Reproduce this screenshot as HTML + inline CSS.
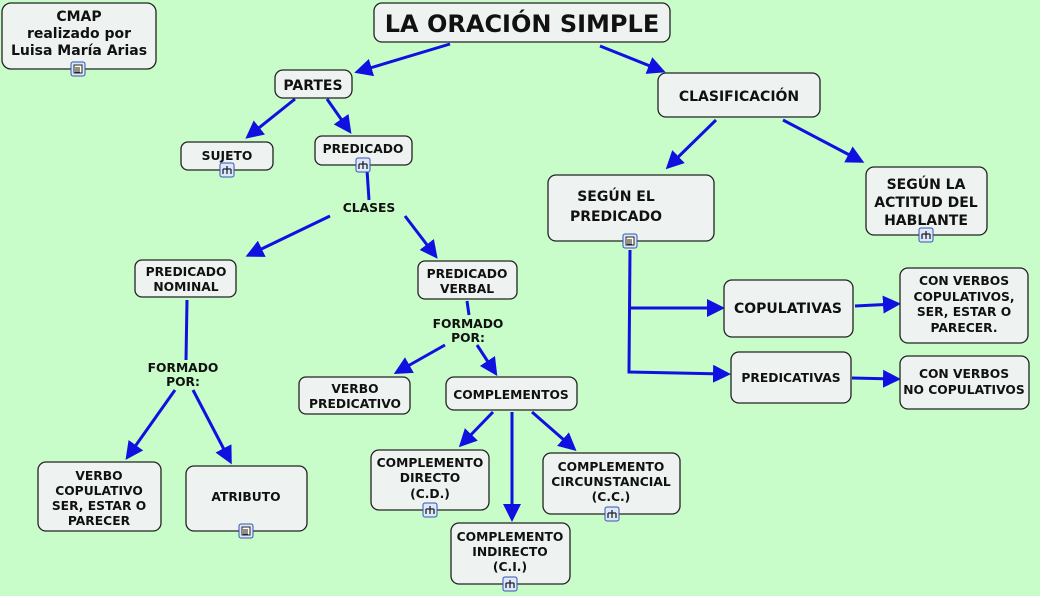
<!DOCTYPE html>
<html><head><meta charset="utf-8">
<style>
html,body{margin:0;padding:0;background:#c8fcc8;}
svg{display:block;}
text{font-family:"DejaVu Sans",Verdana,sans-serif;font-weight:bold;fill:#111;text-anchor:middle;}
.n{fill:#eef3f2;stroke:#222;stroke-width:1.3;}
.e{stroke:#1010e0;stroke-width:3;fill:none;}
.s{font-size:12.3px;}
</style></head><body>
<svg width="1040" height="596" viewBox="0 0 1040 596">
<defs>
<marker id="a" markerWidth="6" markerHeight="6" refX="4" refY="3" orient="auto" markerUnits="strokeWidth"><path d="M0,0 L6,3 L0,6 z" fill="#1010e0"/></marker>
<g id="ic"><rect x="-7" y="-7" width="14" height="14" rx="2" fill="#dde8ff" stroke="#3355aa"/><path d="M0,-4v3M-4,-1h8M-4,-1v5M4,-1v5M0,-1v5" stroke="#222" stroke-width="1.3"/></g>
<g id="ic2"><rect x="-7" y="-7" width="14" height="14" rx="2" fill="#dde8ff" stroke="#3355aa"/><rect x="-4" y="-4" width="8" height="8" fill="#ffe" stroke="#222"/><path d="M-3,-1h5M-3,1h5M-3,3h5" stroke="#222"/></g>
</defs>
<g class="e">
<path d="M450,44 L360,71" marker-end="url(#a)"/>
<path d="M600,46 L660,70" marker-end="url(#a)"/>
<path d="M295,99 L250,135" marker-end="url(#a)"/>
<path d="M327,99 L348,129" marker-end="url(#a)"/>
<path d="M367,170 L369,200"/>
<path d="M330,216 L251,254" marker-end="url(#a)"/>
<path d="M405,216 L434,254" marker-end="url(#a)"/>
<path d="M716,120 L670,165" marker-end="url(#a)"/>
<path d="M783,120 L859,160" marker-end="url(#a)"/>
<path d="M187,300 L186,360"/>
<path d="M175,390 L129,455" marker-end="url(#a)"/>
<path d="M193,390 L229,459" marker-end="url(#a)"/>
<path d="M467,301 L469,315"/>
<path d="M445,345 L399,371" marker-end="url(#a)"/>
<path d="M477,345 L494,371" marker-end="url(#a)"/>
<path d="M630,250 L629,372 L725,374" marker-end="url(#a)"/>
<path d="M629,308 L719,308" marker-end="url(#a)"/>
<path d="M855,306 L895,304" marker-end="url(#a)"/>
<path d="M852,378 L895,379" marker-end="url(#a)"/>
<path d="M493,412 L463,443" marker-end="url(#a)"/>
<path d="M512,412 L512,516" marker-end="url(#a)"/>
<path d="M532,412 L572,447" marker-end="url(#a)"/>
</g>
<rect class="n" x="2" y="3" width="154" height="66" rx="9"/>
<text font-size="14" x="79" y="21">CMAP</text>
<text font-size="14" x="79" y="38">realizado por</text>
<text font-size="14" x="79" y="55">Luisa María Arias</text>
<use href="#ic2" x="78" y="69"/>
<rect class="n" x="374" y="3" width="296" height="39" rx="8"/>
<text font-size="24" x="522" y="32">LA ORACIÓN SIMPLE</text>
<rect class="n" x="275" y="70" width="77" height="28" rx="8"/>
<text font-size="14" x="313" y="90">PARTES</text>
<rect class="n" x="658" y="73" width="162" height="44" rx="8"/>
<text font-size="14" x="739" y="101">CLASIFICACIÓN</text>
<rect class="n" x="181" y="142" width="92" height="28" rx="7"/>
<text class="s" x="227" y="160">SUJETO</text><use href="#ic" x="227" y="170"/>
<rect class="n" x="315" y="136" width="97" height="29" rx="7"/>
<text class="s" x="363" y="153">PREDICADO</text><use href="#ic" x="363" y="165"/>
<text class="s" x="369" y="212">CLASES</text>
<rect class="n" x="548" y="175" width="166" height="66" rx="8"/>
<text font-size="14" x="616" y="201">SEGÚN EL</text>
<text font-size="14" x="616" y="221">PREDICADO</text><use href="#ic2" x="630" y="241"/>
<rect class="n" x="866" y="167" width="121" height="68" rx="8"/>
<text font-size="14" x="926" y="189">SEGÚN LA</text>
<text font-size="14" x="926" y="207">ACTITUD DEL</text>
<text font-size="14" x="926" y="225">HABLANTE</text><use href="#ic" x="926" y="235"/>
<rect class="n" x="135" y="260" width="101" height="37" rx="7"/>
<text class="s" x="186" y="276">PREDICADO</text>
<text class="s" x="186" y="291">NOMINAL</text>
<rect class="n" x="418" y="261" width="99" height="38" rx="7"/>
<text class="s" x="467" y="278">PREDICADO</text>
<text class="s" x="467" y="293">VERBAL</text>
<text class="s" x="468" y="328">FORMADO</text>
<text class="s" x="468" y="342">POR:</text>
<rect class="n" x="724" y="280" width="129" height="57" rx="8"/>
<text font-size="14" x="788" y="313">COPULATIVAS</text>
<rect class="n" x="900" y="268" width="128" height="75" rx="8"/>
<text class="s" x="964" y="285">CON VERBOS</text>
<text class="s" x="964" y="301">COPULATIVOS,</text>
<text class="s" x="964" y="316">SER, ESTAR O</text>
<text class="s" x="964" y="332">PARECER.</text>
<rect class="n" x="731" y="352" width="120" height="51" rx="8"/>
<text class="s" x="791" y="382">PREDICATIVAS</text>
<rect class="n" x="900" y="356" width="129" height="53" rx="8"/>
<text class="s" x="964" y="378">CON VERBOS</text>
<text class="s" x="964" y="394">NO COPULATIVOS</text>
<text class="s" x="183" y="372">FORMADO</text>
<text class="s" x="183" y="386">POR:</text>
<rect class="n" x="299" y="377" width="111" height="37" rx="7"/>
<text class="s" x="355" y="393">VERBO</text>
<text class="s" x="355" y="408">PREDICATIVO</text>
<rect class="n" x="446" y="377" width="131" height="33" rx="8"/>
<text class="s" x="511" y="399">COMPLEMENTOS</text>
<rect class="n" x="38" y="462" width="123" height="69" rx="8"/>
<text class="s" x="99" y="480">VERBO</text>
<text class="s" x="99" y="495">COPULATIVO</text>
<text class="s" x="99" y="510">SER, ESTAR O</text>
<text class="s" x="99" y="525">PARECER</text>
<rect class="n" x="186" y="466" width="121" height="65" rx="8"/>
<text class="s" x="246" y="501">ATRIBUTO</text><use href="#ic2" x="246" y="531"/>
<rect class="n" x="371" y="450" width="118" height="60" rx="8"/>
<text class="s" x="430" y="467">COMPLEMENTO</text>
<text class="s" x="430" y="482">DIRECTO</text>
<text class="s" x="430" y="498">(C.D.)</text><use href="#ic" x="430" y="510"/>
<rect class="n" x="543" y="453" width="137" height="61" rx="8"/>
<text class="s" x="611" y="471">COMPLEMENTO</text>
<text class="s" x="611" y="486">CIRCUNSTANCIAL</text>
<text class="s" x="611" y="501">(C.C.)</text><use href="#ic" x="612" y="514"/>
<rect class="n" x="451" y="523" width="119" height="61" rx="8"/>
<text class="s" x="510" y="541">COMPLEMENTO</text>
<text class="s" x="510" y="556">INDIRECTO</text>
<text class="s" x="510" y="571">(C.I.)</text><use href="#ic" x="510" y="584"/>
</svg>
</body></html>
